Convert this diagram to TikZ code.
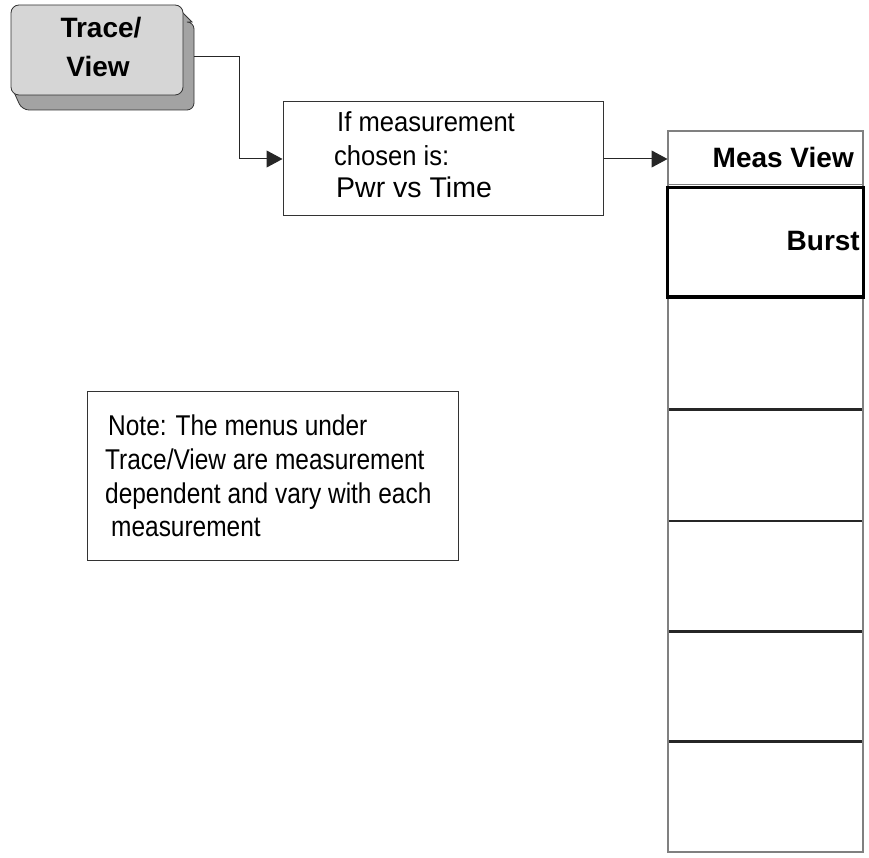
\documentclass[tikz,border=0pt]{standalone}
\usepackage{fontspec}
\setmainfont{Liberation Sans}
\newfontfamily\notefont[FakeStretch=0.855]{Liberation Sans}
\newfontfamily\condfont[FakeStretch=0.93]{Liberation Sans}
\usetikzlibrary{arrows.meta}
\definecolor{keyface}{HTML}{D6D6D6}
\definecolor{keyshade}{HTML}{A3A3A3}
\definecolor{colgray}{HTML}{808080}
\tikzset{
  conn/.style={draw=black!85, line width=1pt, -{Triangle[length=16pt,width=17pt]}},
  plainbox/.style={draw=black!80, line width=1pt, fill=white, inner sep=0pt},
  cell/.style={draw=black!85, line width=1.2pt, inner sep=0pt, minimum width=195pt, minimum height=111pt},
  txt/.style={inner sep=0pt, anchor=base west, font=\condfont\fontsize{27.5}{29}\selectfont},
  notetxt/.style={inner sep=0pt, anchor=base west, font=\notefont\fontsize{28.6}{30}\selectfont},
  boldtxt/.style={inner sep=0pt, font=\fontsize{28}{30}\selectfont\bfseries},
}
\begin{document}
\begin{tikzpicture}[x=1pt,y=-1pt]
\useasboundingbox (0,0) rectangle (869,858);
% key shadow
\filldraw[fill=keyshade, draw=black!80, line width=0.8pt]
  (176,6) -- (192,22) [rounded corners=7pt] -- (194,22) -- (194,110) -- (22,110) [sharp corners] -- (13,90) -- cycle;
\node[draw=black!80, line width=0.8pt, fill=keyface, rounded corners=8pt, minimum width=172pt, minimum height=90pt, inner sep=0pt] (key) at (97,50) {};
\node[boldtxt, anchor=base] (keyt1) at (101,38) {Trace/};
\node[boldtxt, anchor=base] (keyt2) at (98,77) {View};
% condition box
\node[plainbox, minimum width=320pt, minimum height=114pt] (cond) at (443,159) {};
\node[txt] (c1) at (337,132) {If measurement};
\node[txt] (c2) at (334,166) {chosen is:};
\node[inner sep=0pt, anchor=base west, font=\fontsize{28.5}{30}\selectfont] (c3) at (336,198) {Pwr vs Time};
% menu column cells
\node[cell] (m3) at (765.5,353.5) {};
\node[cell] (m4) at (765.5,465.5) {};
\node[cell] (m5) at (765.5,576.5) {};
\node[cell] (m6) at (765.5,686.5) {};
\node[cell] (m7) at (765.5,796.5) {};
\node[draw=colgray, line width=1pt, inner sep=0pt, minimum width=195pt, minimum height=54pt] (meas) at (765.5,158) {};
\draw[colgray, line width=2.2pt] (668,131) -- (863,131) -- (863,852) -- (668,852) -- cycle;
\node[draw=black, line width=3pt, inner sep=0pt, minimum width=196pt, minimum height=109pt] (burst) at (765,242.5) {};
\node[boldtxt, anchor=base east] (meast) at (854,168) {Meas View};
\node[boldtxt, anchor=base east] (burstt) at (860,251) {Burst};
% note
\node[plainbox, minimum width=371pt, minimum height=169pt] (note) at (272.5,475.5) {};
\node[notetxt] (n1) at (108,435) {Note: The menus under};
\node[notetxt] (n2) at (105,469) {Trace/View are measurement};
\node[notetxt] (n3) at (105,503) {dependent and vary with each};
\node[notetxt] (n4) at (111,536) {measurement};
% connectors
\coordinate (bend) at (239,57);
\draw[conn] ([xshift=11pt]key.east |- bend) -- (bend) |- (cond.west);
\draw[conn] (cond.east) -- (cond.east -| meas.west);
\end{tikzpicture}
\end{document}
